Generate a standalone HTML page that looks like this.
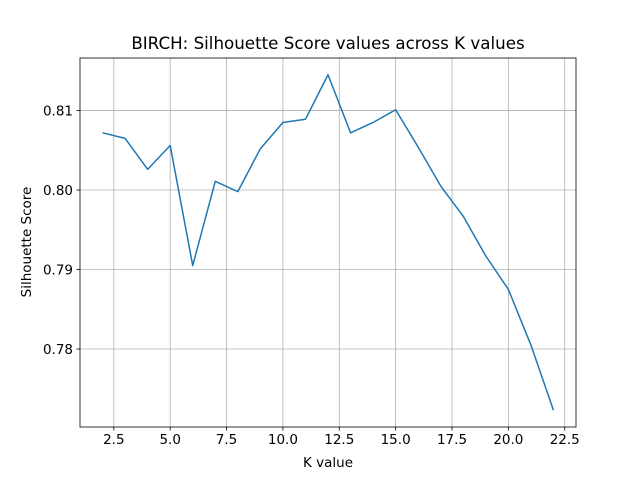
<!DOCTYPE html>
<html><head><meta charset="utf-8"><style>
body{margin:0;background:#fff;}
svg text{font-family:"DejaVu Sans","Liberation Sans",sans-serif;fill:#000;}
</style></head><body>
<svg width="640" height="480" xmlns="http://www.w3.org/2000/svg">
<rect width="640" height="480" fill="#fff"/>
<g id="grid"></g>
<g id="plot"></g>
<rect x="80" y="58" width="496" height="369" fill="none" stroke="#000" stroke-width="0.8"/>
<g id="ticks"></g>
<text x="328" y="49" font-size="16.7" text-anchor="middle">BIRCH: Silhouette Score values across K values</text>
<text x="328" y="467" font-size="13.5" text-anchor="middle">K value</text>
<text x="31" y="242" font-size="13.5" text-anchor="middle" transform="rotate(-90 31 242)">Silhouette Score</text>
</svg>
<script>
const kValues=[2,3,4,5,6,7,8,9,10,11,12,13,14,15,16,17,18,19,20,21,22];
const scores=[0.8072,0.8065,0.8026,0.8056,0.7905,0.8011,0.7998,0.8052,0.8085,0.8089,0.8145,0.8072,0.8085,0.8101,0.8054,0.8005,0.7967,0.7917,0.7875,0.7805,0.7723];
const xTicks=[2.5,5.0,7.5,10.0,12.5,15.0,17.5,20.0,22.5];
const yTicks=[0.78,0.79,0.80,0.81];
const NS="http://www.w3.org/2000/svg";
const L=80,R=576,T=58,B=427;
const xmn=Math.min(...kValues),xmx=Math.max(...kValues),xm=(xmx-xmn)*0.05;
const ymn=Math.min(...scores),ymx=Math.max(...scores),ym=(ymx-ymn)*0.05;
const X=v=>L+(v-(xmn-xm))/((xmx+xm)-(xmn-xm))*(R-L);
const Y=v=>B-(v-(ymn-ym))/((ymx+ym)-(ymn-ym))*(B-T);
function mk(t,a,p){const e=document.createElementNS(NS,t);for(const k in a)e.setAttribute(k,a[k]);p.appendChild(e);return e;}
const grid=document.getElementById('grid'),ticks=document.getElementById('ticks'),plot=document.getElementById('plot');
xTicks.forEach(v=>{const x=X(v);
const g=mk('line',{x1:x,x2:x,y1:T,y2:B,stroke:'#b0b0b0','stroke-width':0.8},grid);


mk('line',{x1:x,x2:x,y1:B,y2:B+3.5,stroke:'#000','stroke-width':0.8},ticks);
const t=mk('text',{x:x,y:B+17,'font-size':13.5,'text-anchor':'middle'},ticks);t.textContent=v.toFixed(1);

});
yTicks.forEach(v=>{const y=Y(v);
const g=mk('line',{x1:L,x2:R,y1:y,y2:y,stroke:'#b0b0b0','stroke-width':0.8},grid);


mk('line',{x1:L-3.5,x2:L,y1:y,y2:y,stroke:'#000','stroke-width':0.8},ticks);
const t=mk('text',{x:L-7,y:y+5,'font-size':13.5,'text-anchor':'end'},ticks);t.textContent=v.toFixed(2);

});
const pts=kValues.map((k,i)=>X(k).toFixed(2)+','+Y(scores[i]).toFixed(2)).join(' ');
const line=mk('polyline',{points:pts,fill:'none',stroke:'#1f77b4','stroke-width':1.5,'stroke-linejoin':'round'},plot);


</script>
</body></html>
